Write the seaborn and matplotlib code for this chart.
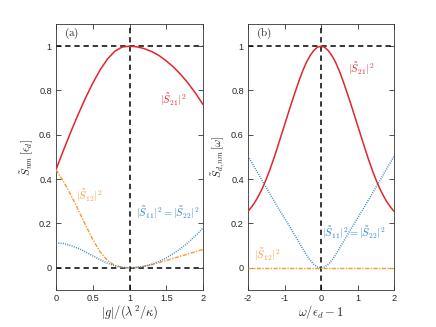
import numpy as np
import pandas as pd
import matplotlib
matplotlib.use("Agg")
import matplotlib.pyplot as plt
import seaborn as sns

# ---------------- data ----------------
g_vals = [0.0, 0.1, 0.2, 0.3, 0.4, 0.5, 0.6, 0.7, 0.8, 0.9, 1.0,
          1.1, 1.2, 1.3, 1.4, 1.5, 1.6, 1.7, 1.8, 1.9, 2.0]
a_S21 = [0.443, 0.529, 0.612, 0.691, 0.765, 0.833, 0.893, 0.942, 0.977, 0.996, 1.0,
         0.997, 0.989, 0.976, 0.958, 0.934, 0.905, 0.871, 0.832, 0.787, 0.737]
a_S12 = [0.443, 0.391, 0.330, 0.263, 0.194, 0.128, 0.072, 0.033, 0.011, 0.002, 0.0,
         0.002, 0.007, 0.014, 0.023, 0.033, 0.043, 0.053, 0.063, 0.073, 0.083]
a_S11 = [0.113, 0.110, 0.101, 0.088, 0.072, 0.054, 0.037, 0.021, 0.009, 0.002, 0.0,
         0.002, 0.007, 0.016, 0.029, 0.045, 0.065, 0.088, 0.115, 0.146, 0.18]

w_vals = [-2.0, -1.9, -1.8, -1.7, -1.6, -1.5, -1.4, -1.3, -1.2, -1.1,
          -1.0, -0.9, -0.8, -0.7, -0.6, -0.5, -0.4, -0.3, -0.2, -0.1,
          0.0, 0.1, 0.2, 0.3, 0.4, 0.5, 0.6, 0.7, 0.8, 0.9,
          1.0, 1.1, 1.2, 1.3, 1.4, 1.5, 1.6, 1.7, 1.8, 1.9, 2.0]
b_S21 = [0.255, 0.275, 0.299, 0.328, 0.361, 0.400, 0.443, 0.490, 0.540, 0.592,
         0.644, 0.696, 0.748, 0.797, 0.845, 0.889, 0.927, 0.957, 0.980, 0.995,
         1.0, 0.995, 0.980, 0.957, 0.927, 0.889, 0.845, 0.797, 0.748, 0.696,
         0.644, 0.592, 0.540, 0.490, 0.443, 0.400, 0.361, 0.328, 0.299, 0.275, 0.255]
b_S11 = [0.503, 0.475, 0.447, 0.419, 0.390, 0.362, 0.334, 0.306, 0.278, 0.251,
         0.224, 0.197, 0.170, 0.142, 0.114, 0.086, 0.059, 0.035, 0.016, 0.004,
         0.0, 0.004, 0.016, 0.035, 0.059, 0.086, 0.114, 0.142, 0.170, 0.197,
         0.224, 0.251, 0.278, 0.306, 0.334, 0.362, 0.390, 0.419, 0.447, 0.475, 0.503]
b_S12 = [0.0, 0.0, 0.0, 0.0, 0.0, 0.0, 0.0, 0.0, 0.0, 0.0,
         0.0, 0.0, 0.0, 0.0, 0.0, 0.0, 0.0, 0.0, 0.0, 0.0,
         0.0, 0.0, 0.0, 0.0, 0.0, 0.0, 0.0, 0.0, 0.0, 0.0,
         0.0, 0.0, 0.0, 0.0, 0.0, 0.0, 0.0, 0.0, 0.0, 0.0, 0.0]

x_ticks_a = [0, 0.5, 1, 1.5, 2]
x_ticklabels_a = ["0", "0.5", "1", "1.5", "2"]
x_ticks_b = [-2, -1, 0, 1, 2]
x_ticklabels_b = ["-2", "-1", "0", "1", "2"]
y_ticks = [0, 0.2, 0.4, 0.6, 0.8, 1]
y_ticklabels = ["0", "0.2", "0.4", "0.6", "0.8", "1"]

RED = "#e0262b"
ORANGE = "#f39a36"
BLUE = "#2f7fc0"
DASH = (0, (3.5, 2.5))
DASHDOT = (0, (3, 1, 1, 1))
DOTS = (0, (0.6, 0.9))

# ---------------- style ----------------
sns.set_style("ticks")
plt.rcParams["font.family"] = ["Liberation Sans", "DejaVu Sans"]
plt.rcParams["mathtext.fontset"] = "cm"
plt.rcParams["xtick.direction"] = "in"
plt.rcParams["ytick.direction"] = "in"

fig = plt.figure(figsize=(4.36, 3.27), dpi=100)
ax_a = fig.add_axes([56 / 436, 1 - 290 / 327, 147 / 436, 266 / 327])
ax_b = fig.add_axes([248 / 436, 1 - 290 / 327, 146 / 436, 266 / 327])

dfa = pd.DataFrame({"g": g_vals, "S21": a_S21, "S12": a_S12, "S11": a_S11})
dfb = pd.DataFrame({"w": w_vals, "S21": b_S21, "S12": b_S12, "S11": b_S11})


def frame(ax, xt, xtl, xlim):
    ax.set_xlim(*xlim)
    ax.set_ylim(-0.1, 1.1)
    ax.set_xticks(xt)
    ax.set_xticklabels(xtl)
    ax.set_yticks(y_ticks)
    ax.set_yticklabels(y_ticklabels)
    ax.tick_params(axis="both", which="both", direction="in", top=True, right=True,
                   length=3.5, width=0.6, color="#333333", labelsize=6.6,
                   labelcolor="#262626", pad=3)
    for s in ax.spines.values():
        s.set_linewidth(0.6)
        s.set_color("#333333")
        s.set_visible(True)


# panel (a)
ax_a.axhline(1, color="black", ls=DASH, lw=1.1, zorder=1)
ax_a.axhline(0, color="black", ls=DASH, lw=1.1, zorder=1)
ax_a.axvline(1, color="black", ls=DASH, lw=1.1, zorder=1)
sns.lineplot(data=dfa, x="g", y="S21", ax=ax_a, color=RED, lw=1.1, zorder=3)
sns.lineplot(data=dfa, x="g", y="S12", ax=ax_a, color=ORANGE, lw=1.0,
             linestyle=DASHDOT, zorder=3)
sns.lineplot(data=dfa, x="g", y="S11", ax=ax_a, color=BLUE, lw=1.1,
             linestyle=DOTS, zorder=3)
frame(ax_a, x_ticks_a, x_ticklabels_a, (0, 2))
ax_a.set_xlabel(r"$|g|/(\lambda^2/\kappa)$", fontsize=9, labelpad=0)
ax_a.set_ylabel(r"$\tilde{S}_{nm}\,[\epsilon_d]$", fontsize=8, labelpad=2)
ax_a.text(0.055, 0.966, r"$\mathrm{(a)}$", transform=ax_a.transAxes, fontsize=8,
          ha="left", va="center")
ax_a.text(1.6, 0.757, r"$|\tilde{S}_{21}|^2$", color=RED, fontsize=7.5, ha="center", va="center")
ax_a.text(0.45, 0.325, r"$|\tilde{S}_{12}|^2$", color=ORANGE, fontsize=7.5, ha="center", va="center")
ax_a.text(1.52, 0.25, r"$|\tilde{S}_{11}|^2=|\tilde{S}_{22}|^2$", color=BLUE, fontsize=7.5,
          ha="center", va="center")

# panel (b)
ax_b.axhline(1, color="black", ls=DASH, lw=1.1, zorder=1)
ax_b.axvline(0, color="black", ls=DASH, lw=1.1, zorder=1)
sns.lineplot(data=dfb, x="w", y="S21", ax=ax_b, color=RED, lw=1.1, zorder=3)
sns.lineplot(data=dfb, x="w", y="S12", ax=ax_b, color=ORANGE, lw=1.0,
             linestyle=DASHDOT, zorder=3)
sns.lineplot(data=dfb, x="w", y="S11", ax=ax_b, color=BLUE, lw=1.1,
             linestyle=DOTS, zorder=3)
frame(ax_b, x_ticks_b, x_ticklabels_b, (-2, 2))
ax_b.set_xlabel(r"$\omega/\epsilon_d-1$", fontsize=9, labelpad=0)
ax_b.set_ylabel(r"$\tilde{S}_{d,nm}\,[\omega]$", fontsize=8, labelpad=2)
ax_b.text(0.055, 0.966, r"$\mathrm{(b)}$", transform=ax_b.transAxes, fontsize=8,
          ha="left", va="center")
ax_b.text(1.09, 0.90, r"$|\tilde{S}_{21}|^2$", color=RED, fontsize=7.5, ha="center", va="center")
ax_b.text(-1.48, 0.06, r"$|\tilde{S}_{12}|^2$", color=ORANGE, fontsize=7.5, ha="center", va="center")
ax_b.text(0.89, 0.158, r"$|\tilde{S}_{11}|^2=|\tilde{S}_{22}|^2$", color=BLUE, fontsize=7.5,
          ha="center", va="center")

fig.savefig("out.png", dpi=100)
